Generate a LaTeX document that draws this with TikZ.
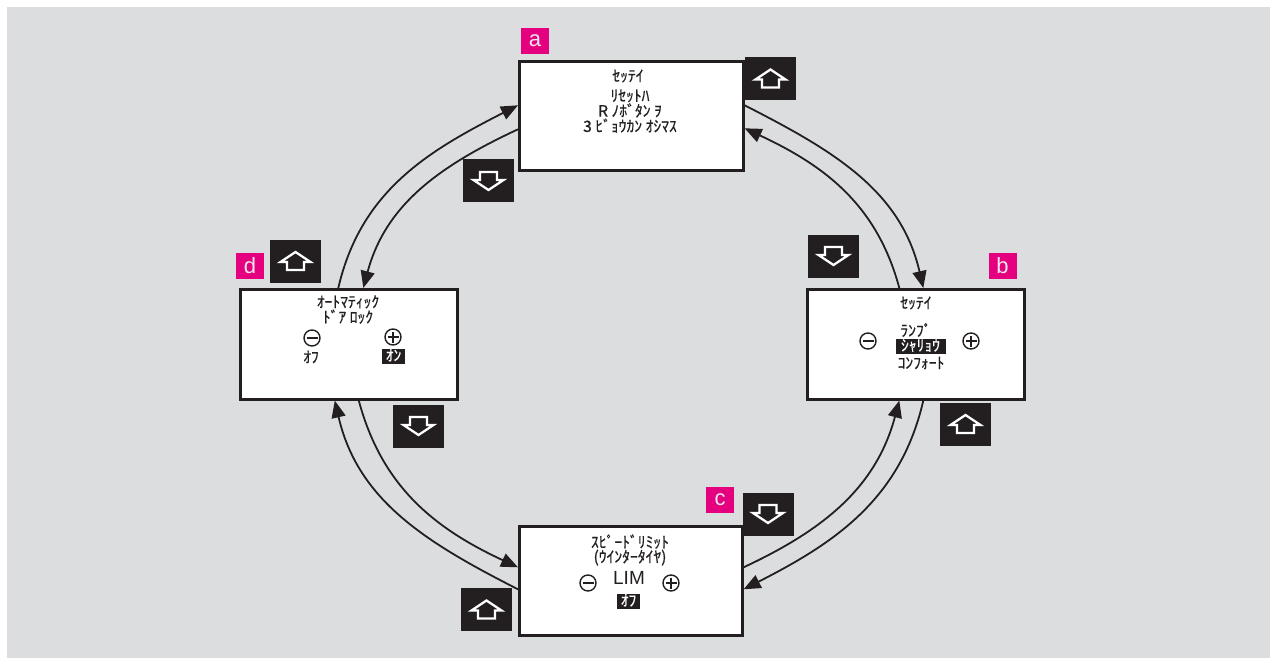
\documentclass[tikz,border=0pt]{standalone}
\usepackage{fontspec}
\setmainfont{Liberation Sans}
\newfontfamily\jp[FakeBold=0.6]{Noto Sans CJK JP}
\usetikzlibrary{arrows.meta}
\definecolor{bg}{RGB}{220,221,223}
\definecolor{pinkc}{RGB}{228,0,127}
\definecolor{lbl}{RGB}{238,232,238}
\definecolor{ink}{RGB}{35,31,32}
\begin{document}
\begin{tikzpicture}[x=1pt,y=1pt,
  box/.style={draw=ink,fill=white,line width=2.6pt,inner sep=0pt,anchor=north west},
  conn/.style={draw=ink,line width=1.8pt,-{Triangle[length=17pt,width=14pt]}},
  btn/.style={fill=ink,minimum width=51pt,minimum height=43pt,inner sep=0pt},
  btnup/.style={btn,path picture={\draw[white,line width=2.3pt,shift={(path picture bounding box.center)}]
     (0pt,9pt) -- (15pt,-1pt) -- (8.5pt,-1pt) -- (8.5pt,-9pt) -- (-8.5pt,-9pt) -- (-8.5pt,-1pt) -- (-15pt,-1pt) -- cycle;}},
  btndown/.style={btn,path picture={\draw[white,line width=2.3pt,shift={(path picture bounding box.center)}]
     (0pt,-9pt) -- (15pt,1pt) -- (8.5pt,1pt) -- (8.5pt,9pt) -- (-8.5pt,9pt) -- (-8.5pt,1pt) -- (-15pt,1pt) -- cycle;}},
  tag/.style={fill=pinkc,text=lbl,minimum width=28pt,minimum height=26pt,inner sep=0pt,font=\fontsize{22}{22}\selectfont},
  txt/.style={font=\jp\fontsize{15.6}{13.2}\selectfont,align=center,inner sep=0pt,text=ink},
  inv/.style={txt,fill=ink,text=white,inner xsep=3.5pt,inner ysep=1pt,text height=11pt,text depth=2pt},
  minus/.style={circle,draw=ink,line width=1.4pt,minimum size=16pt,inner sep=0pt,
     path picture={\draw[ink,line width=1.8pt] ([xshift=-5.5pt]path picture bounding box.center) -- ([xshift=5.5pt]path picture bounding box.center);}},
  plus/.style={circle,draw=ink,line width=1.4pt,minimum size=16pt,inner sep=0pt,
     path picture={\draw[ink,line width=1.8pt] ([xshift=-5.5pt]path picture bounding box.center) -- ([xshift=5.5pt]path picture bounding box.center)
        ([yshift=-5.5pt]path picture bounding box.center) -- ([yshift=5.5pt]path picture bounding box.center);}}
]
\useasboundingbox (0,0) rectangle (1270,-658);
\fill[white] (0,0) rectangle (1270,-658);
\fill[bg] (7,-7) rectangle (1270,-658);

% boxes
\node[box,minimum width=224pt,minimum height=109pt] (a) at (518,-60) {};
\node[box,minimum width=217pt,minimum height=110pt] (b) at (806,-288) {};
\node[box,minimum width=223pt,minimum height=109pt] (c) at (518,-525) {};
\node[box,minimum width=217pt,minimum height=110pt] (d) at (239,-288) {};

% tags
\node[tag] (ta) at (535,-41) {a};
\node[tag] (tb) at (1002.5,-265.5) {b};
\node[tag] (tc) at (720,-500) {c};
\node[tag] (td) at (250,-265.5) {d};

% buttons
\node[btnup] (ua) at (770.5,-78.5) {};
\node[btndown] (da) at (488.5,-181) {};
\node[btndown] (db) at (833.5,-256) {};
\node[btnup] (ub) at (965.5,-424) {};
\node[btndown] (dc) at (768,-514) {};
\node[btnup] (uc) at (486.5,-609.5) {};
\node[btnup] (ud) at (295.5,-261) {};
\node[btndown] (dd) at (418.5,-426) {};

% connectors
\draw[conn] ([xshift=-10.5pt]d.north) to[out=77,in=207] ([yshift=10.5pt]a.west);
\draw[conn] ([yshift=-13.5pt]a.west) to[out=205,in=75] ([xshift=14.5pt]d.north);
\draw[conn] ([yshift=10.5pt]a.east) to[out=-27,in=103] ([xshift=7.5pt]b.north);
\draw[conn] ([xshift=-16.5pt]b.north) to[out=105,in=-25] ([yshift=-12.5pt]a.east);
\draw[conn] ([xshift=7.5pt]b.south) to[out=-103,in=27] ([yshift=-8.5pt]c.east);
\draw[conn] ([yshift=13.5pt]c.east) to[out=25,in=-105] ([xshift=-16.5pt]b.south);
\draw[conn] ([xshift=10pt]d.south) to[out=-75,in=155] ([yshift=13.5pt]c.west);
\draw[conn] ([yshift=-8.5pt]c.west) to[out=153,in=-77] ([xshift=-14pt]d.south);

% box a text
\node[txt] (a1) at (628,-76) {ｾｯﾃｲ};
\node[txt] (a2) at (630,-111) {ﾘｾｯﾄﾊ\\R ﾉﾎﾞﾀﾝ ｦ\\3 ﾋﾞｮｳｶﾝ ｵｼﾏｽ};

% box b text
\node[txt] (b1) at (916,-303) {ｾｯﾃｲ};
\node[minus] (bm) at (868,-341) {};
\node[plus] (bp) at (971,-341) {};
\node[txt] (b2) at (916,-330) {ﾗﾝﾌﾟ};
\node[inv,inner xsep=5.5pt] (b3) at (920.5,-346.5) {ｼｬﾘｮｳ};
\node[txt] (b4) at (921,-363) {ｺﾝﾌｫｰﾄ};

% box c text
\node[txt] (c1) at (630,-550) {ｽﾋﾟｰﾄﾞﾘﾐｯﾄ\\(ｳｲﾝﾀｰﾀｲﾔ)};
\node[minus] (cm) at (588,-583) {};
\node[plus] (cp) at (671,-583) {};
\node[font=\fontsize{19}{19}\selectfont,text=ink,inner sep=0pt] (c2) at (629,-578) {LIM};
\node[inv] (c3) at (628.5,-601.5) {ｵﾌ};

% box d text
\node[txt] (d1) at (348,-309.5) {ｵｰﾄﾏﾃｨｯｸ\\ﾄﾞｱ ﾛｯｸ};
\node[minus] (dm) at (312,-338) {};
\node[plus] (dp) at (393,-337) {};
\node[txt] (d2) at (311,-357) {ｵﾌ};
\node[inv] (d3) at (393.5,-356.5) {ｵﾝ};
\end{tikzpicture}
\end{document}
